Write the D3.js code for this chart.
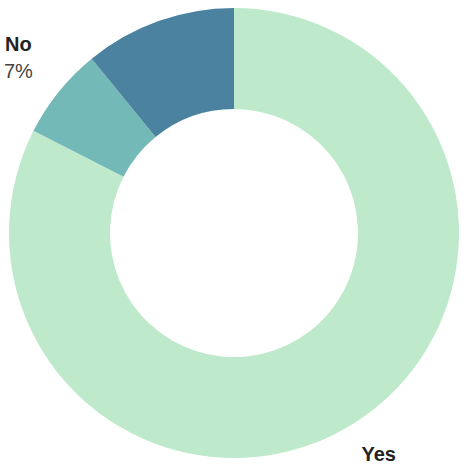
<!DOCTYPE html>
<html>
<head>
<meta charset="utf-8">
<script src="https://cdn.jsdelivr.net/npm/d3@7"></script>
<style>
  html, body { margin: 0; padding: 0; background: #fff; overflow: hidden; }
  svg { display: block; }
</style>
</head>
<body>
<svg id="chart" width="466" height="473"></svg>
<script>
const categories = ["Yes", "No", "Unsure"];
const values = [82.5, 6.6, 10.9];
const colors = ["#beeacb", "#73b9b7", "#4a82a0"];

const width = 466, height = 473;
const cx = 234, cy = 233;
const outerR = 225, innerR = 124, labelR = 277;
const fontSize = 20;

const data = categories.map((c, i) => ({ name: c, value: values[i], color: colors[i] }));
const total = d3.sum(values);

const svg = d3.select("#chart");
const g = svg.append("g").attr("transform", `translate(${cx},${cy})`);

const pie = d3.pie().value(d => d.value).sort(null);
const arc = d3.arc().innerRadius(innerR).outerRadius(outerR);
const labelArc = d3.arc().innerRadius(labelR).outerRadius(labelR);

const arcs = pie(data);

g.selectAll("path.slice")
  .data(arcs)
  .join("path")
  .attr("class", "slice")
  .attr("d", arc)
  .attr("fill", d => d.data.color);

// Build label lines; only lines that fall fully inside the canvas are drawn
const lines = [];
arcs.forEach(d => {
  const [lx, ly] = labelArc.centroid(d);
  lines.push({ x: lx, y: ly - 8, text: d.data.name, bold: true });
  lines.push({ x: lx, y: ly + 19, text: Math.round(d.data.value / total * 100) + "%", bold: false });
});
const visible = lines.filter(l => {
  const top = cy + l.y - fontSize * 0.75, bottom = cy + l.y + 4;
  return top >= 0 && bottom <= height;
});

g.selectAll("text.label")
  .data(visible)
  .join("text")
  .attr("class", "label")
  .attr("x", d => d.x)
  .attr("y", d => d.y)
  .attr("text-anchor", "middle")
  .attr("font-family", "Liberation Sans, Arial, sans-serif")
  .attr("font-weight", d => d.bold ? "bold" : "normal")
  .attr("font-size", fontSize)
  .attr("fill", d => d.bold ? "#222" : "#444")
  .text(d => d.text);
</script>
</body>
</html>
